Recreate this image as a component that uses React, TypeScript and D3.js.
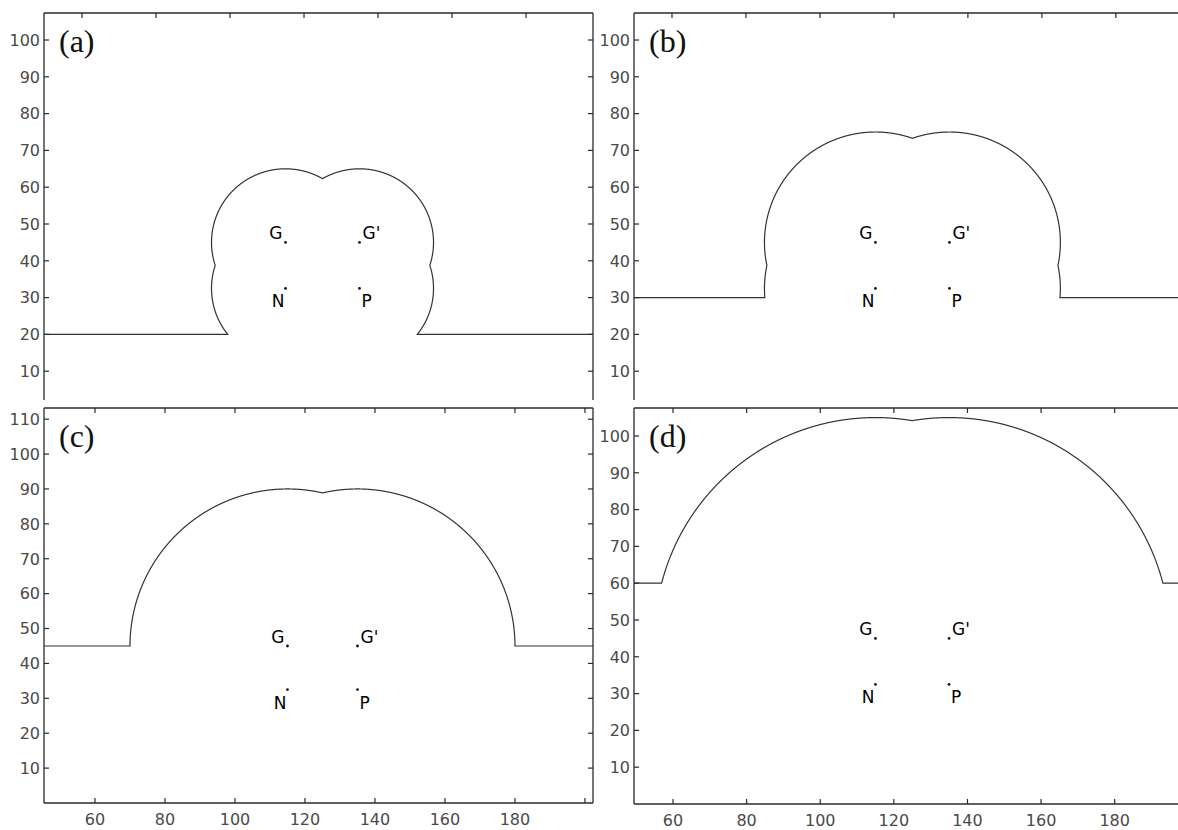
import React from "react";
import * as d3 from "d3";

// ---- data ----
const PANEL_LABELS = ["(a)", "(b)", "(c)", "(d)"];
const RADII = [20, 30, 45, 60];
const POINT_NAMES = ["G", "G'", "N", "P"];
const POINT_X = [115, 135, 115, 135];
const POINT_Y = [45, 45, 32.5, 32.5];
const X_DOMAINS: [number, number][] = [
  [49.73, 198.1],
  [49.73, 196.8],
  [45.43, 202.3],
  [49.4, 197.2],
];
const Y_DOMAINS: [number, number][] = [
  [0, 107.34],
  [0, 107.34],
  [0, 113.2],
  [0, 107.6],
];
const X_TICKS = [60, 80, 100, 120, 140, 160, 180, 200];
const X_LABELS = [60, 80, 100, 120, 140, 160, 180];
const Y_TICKS = [10, 20, 30, 40, 50, 60, 70, 80, 90, 100, 110];

// ---- layout ----
const BOXES = [
  { x0: 44, x1: 593, y0: 13, y1: 408, bg: [0, 0, 595, 400], right: true, xlab: false },
  { x0: 634, x1: 1178, y0: 13, y1: 408, bg: [595, 0, 583, 400], right: false, xlab: false },
  { x0: 44, x1: 593, y0: 408, y1: 803, bg: [0, 400, 595, 430], right: true, xlab: true },
  { x0: 634, x1: 1178, y0: 408, y1: 804, bg: [595, 400, 583, 430], right: false, xlab: true },
];
// label offsets (px) relative to dot
const LABEL_OFF = [
  { dx: -3, dy: -3, anchor: "end" },
  { dx: 3, dy: -3, anchor: "start" },
  { dx: -1, dy: 19, anchor: "end" },
  { dx: 2, dy: 19, anchor: "start" },
];

const AXIS = "#2a2a2a";
const TICK_TXT = "#4a4a4a";
const TL = 5;

function boundary(r: number, xmin: number, xmax: number): [number, number][] {
  const ox = d3.mean(POINT_X) as number;
  const oy = Math.max(d3.mean(POINT_Y) as number, r + 1);
  const n = 6000;
  const arc: [number, number][] = [];
  for (let k = 0; k <= n; k++) {
    const th = -Math.PI / 2 + (2 * Math.PI * k) / n;
    const ux = Math.cos(th), uy = Math.sin(th);
    let rho = 0;
    for (let i = 0; i < POINT_X.length; i++) {
      const dx = POINT_X[i] - ox, dy = POINT_Y[i] - oy;
      const b = ux * dx + uy * dy;
      const t = b + Math.sqrt(b * b - (dx * dx + dy * dy) + r * r);
      if (t > rho) rho = t;
    }
    if (uy < 0) {
      const tl = (r - oy) / uy;
      if (tl <= rho) continue;
    }
    arc.push([ox + rho * ux, oy + rho * uy]);
  }
  let xL = Infinity, xR = -Infinity;
  for (let i = 0; i < POINT_X.length; i++) {
    const h = r - POINT_Y[i];
    if (Math.abs(h) <= r) {
      const w = Math.sqrt(r * r - h * h);
      xL = Math.min(xL, POINT_X[i] - w);
      xR = Math.max(xR, POINT_X[i] + w);
    }
  }
  return [[xmax, r], [xR, r], ...arc, [xL, r], [xmin, r]];
}

function Panel({ idx }: { idx: number }) {
  const b = BOXES[idx];
  const xd = X_DOMAINS[idx];
  const yd = Y_DOMAINS[idx];
  const x = d3.scaleLinear().domain(xd).range([b.x0, b.x1]);
  const y = d3.scaleLinear().domain(yd).range([b.y1, b.y0]);
  const r = RADII[idx];
  const pts = boundary(r, xd[0] - 5, xd[1] + 5);
  const line = d3.line<[number, number]>().x((d) => x(d[0])).y((d) => y(d[1]));
  const xt = X_TICKS.filter((v) => v > xd[0] && v < xd[1]);
  const yt = Y_TICKS.filter((v) => v > yd[0] && v < yd[1]);
  const xl = X_LABELS.filter((v) => v > xd[0] && v < xd[1]);
  const clipId = `clip-${idx}`;
  return (
    <g>
      <rect x={b.bg[0]} y={b.bg[1]} width={b.bg[2]} height={b.bg[3]} fill="#fff" />
      <clipPath id={clipId}>
        <rect x={b.x0} y={b.y0} width={b.x1 - b.x0} height={b.y1 - b.y0} />
      </clipPath>
      <path d={line(pts) || ""} fill="none" stroke="#333" strokeWidth={1.2} clipPath={`url(#${clipId})`} />
      {POINT_NAMES.map((nm, i) => {
        const px = x(POINT_X[i]);
        const py = y(POINT_Y[i]);
        const o = LABEL_OFF[i];
        return (
          <g key={nm}>
            <circle cx={px} cy={py} r={1.4} fill="#111" />
            <text
              x={px + o.dx}
              y={py + o.dy}
              textAnchor={o.anchor as any}
              fontFamily="DejaVu Sans"
              fontSize={17}
              fill="#000"
            >
              {nm}
            </text>
          </g>
        );
      })}
      {/* axes lines */}
      <line x1={b.x0} x2={b.x1} y1={b.y0} y2={b.y0} stroke={AXIS} strokeWidth={1.3} />
      <line x1={b.x0} x2={b.x1} y1={b.y1} y2={b.y1} stroke={AXIS} strokeWidth={1.3} />
      <line x1={b.x0} x2={b.x0} y1={b.y0} y2={b.y1} stroke={AXIS} strokeWidth={1.3} />
      {b.right && <line x1={b.x1} x2={b.x1} y1={b.y0} y2={b.y1} stroke={AXIS} strokeWidth={1.3} />}
      {xt.map((v) => (
        <g key={"xt" + v}>
          <line x1={x(v)} x2={x(v)} y1={b.y0} y2={b.y0 + TL} stroke={AXIS} strokeWidth={1.2} />
          <line x1={x(v)} x2={x(v)} y1={b.y1} y2={b.y1 - TL} stroke={AXIS} strokeWidth={1.2} />
        </g>
      ))}
      {b.xlab &&
        xl.map((v) => (
          <text key={"xl" + v} x={x(v)} y={b.y1 + 22} textAnchor="middle" fontFamily="DejaVu Sans" fontSize={16} fill={TICK_TXT}>
            {v}
          </text>
        ))}
      {yt.map((v) => (
        <g key={"yt" + v}>
          <line x1={b.x0} x2={b.x0 + TL} y1={y(v)} y2={y(v)} stroke={AXIS} strokeWidth={1.2} />
          {b.right && <line x1={b.x1} x2={b.x1 - TL} y1={y(v)} y2={y(v)} stroke={AXIS} strokeWidth={1.2} />}
          <text x={b.x0 - 4} y={y(v)} dy="0.36em" textAnchor="end" fontFamily="DejaVu Sans" fontSize={16} fill={TICK_TXT}>
            {v}
          </text>
        </g>
      ))}
      <text x={b.x0 + 15} y={b.y0 + 39} fontFamily="Liberation Serif" fontSize={32} fill="#111">
        {PANEL_LABELS[idx]}
      </text>
    </g>
  );
}

export default function App() {
  return (
    <svg
      width={1178}
      height={830}
      style={{ position: "absolute", left: 0, top: 0, display: "block", background: "#fff" }}
    >
      <rect width={1178} height={830} fill="#fff" />
      {[0, 1, 2, 3].map((i) => (
        <Panel key={i} idx={i} />
      ))}
    </svg>
  );
}
